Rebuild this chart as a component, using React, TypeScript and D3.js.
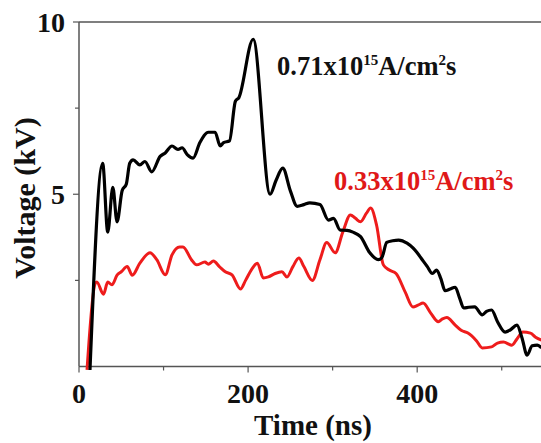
import React from 'react';
import * as d3 from 'd3';

// time (ns) / voltage (kV)
const blackTime = [13, 28, 34, 40, 45, 51, 56, 60, 64, 72, 78, 86, 96, 102, 110, 117, 122, 128, 135, 143, 153, 161, 167, 171, 178, 185, 189, 206, 226, 233, 241, 250, 258, 266, 273, 285, 295, 301, 309, 317, 324, 333, 344, 354, 358, 364, 371, 378, 388, 395, 400, 406, 412, 418, 423, 428, 433, 439, 445, 450, 455, 461, 468, 477, 482, 488, 495, 504, 510, 518, 524, 530, 536, 542, 547];
const blackVolt = [-0.1, 5.9, 3.9, 5.2, 4.2, 5.1, 5.3, 5.9, 6.0, 5.85, 5.95, 5.65, 6.1, 6.2, 6.4, 6.3, 6.35, 6.15, 6.05, 6.5, 6.8, 6.8, 6.4, 6.5, 6.55, 7.7, 7.8, 9.5, 5.0, 5.4, 5.76, 5.1, 4.65, 4.7, 4.75, 4.7, 4.25, 4.3, 3.96, 3.95, 3.9, 3.77, 3.3, 3.1, 3.15, 3.6, 3.65, 3.67, 3.58, 3.44, 3.3, 3.1, 2.9, 2.7, 2.8, 2.55, 2.2, 2.25, 2.3, 2.0, 1.7, 1.72, 1.73, 1.5, 1.6, 1.64, 1.3, 1.0, 1.06, 1.2, 0.83, 0.33, 0.6, 0.62, 0.54];

const redTime = [9.5, 19, 21, 29, 34, 39, 45, 50, 57, 63, 72, 84, 92, 102, 110, 119, 123, 133, 139, 149, 153, 159, 166, 173, 181, 191, 197, 205, 211, 218, 224, 232, 240, 246, 253, 260, 266, 276, 285, 293, 303, 312, 321, 327, 333, 340, 345, 352, 360, 367, 375, 386, 395, 401, 407, 416, 425, 430, 435, 445, 452, 460, 470, 477, 488, 495, 502, 512, 518, 525, 534, 540, 547];
const redVolt = [-0.1, 2.4, 2.45, 2.1, 2.45, 2.37, 2.65, 2.75, 2.9, 2.65, 3.0, 3.3, 3.1, 2.66, 3.24, 3.47, 3.47, 3.1, 2.95, 3.03, 2.97, 3.06, 2.9, 2.75, 2.66, 2.25, 2.5, 2.85, 3.0, 2.57, 2.6, 2.7, 2.75, 2.6, 2.9, 3.15, 2.9, 2.5, 3.1, 3.6, 3.3, 3.9, 4.4, 4.3, 4.2, 4.45, 4.6, 4.1, 2.95, 2.8, 2.7, 2.15, 1.73, 1.78, 1.84, 1.55, 1.3, 1.38, 1.42, 1.2, 1.05, 0.97, 0.75, 0.54, 0.57, 0.68, 0.71, 0.62, 0.8, 1.0, 0.97, 0.85, 0.77];

const xTickLabels = [0, 200, 400];
const xMinorTicks = [100, 300, 500];
const yTickLabels = [5, 10];
const yMinorTicks = [2.5, 7.5];

const W = 541;
const H = 443;

const App = () => {
  const x = d3.scaleLinear().domain([0, 550]).range([79, 544]);
  const y = d3.scaleLinear().domain([0, 10]).range([366.5, 22]);

  const line = d3
    .line<[number, number]>()
    .x(d => x(d[0]))
    .y(d => y(d[1]))
    .curve(d3.curveMonotoneX);

  const black = blackTime.map((t, i) => [t, blackVolt[i]] as [number, number]);
  const red = redTime.map((t, i) => [t, redVolt[i]] as [number, number]);

  const axisColor = '#555';
  const font = '"Liberation Serif", "Times New Roman", serif';

  return (
    <svg
      width={W}
      height={H}
      style={{ position: 'fixed', left: 0, top: 0, background: '#fff' }}
      fontFamily={font}
      fontWeight="bold"
    >
      {/* frame: left, bottom, top */}
      <line x1={x(0)} x2={x(0)} y1={y(10)} y2={y(0)} stroke={axisColor} strokeWidth={1.5} />
      <line x1={x(0)} x2={W} y1={y(0)} y2={y(0)} stroke={axisColor} strokeWidth={1.5} />
      <line x1={x(0)} x2={W} y1={y(10)} y2={y(10)} stroke={axisColor} strokeWidth={1.5} />

      {xTickLabels.map(t => (
        <g key={'xt' + t}>
          <line x1={x(t)} x2={x(t)} y1={y(0)} y2={y(0) + 6} stroke={axisColor} strokeWidth={1.2} />
          <text x={x(t)} y={403} fontSize={28} textAnchor="middle" fill="#111">
            {t}
          </text>
        </g>
      ))}
      {xMinorTicks.map(t => (
        <line key={'xm' + t} x1={x(t)} x2={x(t)} y1={y(0)} y2={y(0) + 4} stroke={axisColor} strokeWidth={1.2} />
      ))}
      {yTickLabels.map(t => (
        <g key={'yt' + t}>
          <line x1={x(0) - 6} x2={x(0)} y1={y(t)} y2={y(t)} stroke={axisColor} strokeWidth={1.2} />
          <text x={65} y={y(t)} dy="0.35em" fontSize={28} textAnchor="end" fill="#111">
            {t}
          </text>
        </g>
      ))}
      {yMinorTicks.map(t => (
        <line key={'ym' + t} x1={x(0) - 4} x2={x(0)} y1={y(t)} y2={y(t)} stroke={axisColor} strokeWidth={1.2} />
      ))}

      {/* curves */}
      <path d={line(red) || ''} fill="none" stroke="#ee1c1c" strokeWidth={3} strokeLinejoin="round" />
      <path d={line(black) || ''} fill="none" stroke="#000" strokeWidth={3.2} strokeLinejoin="round" />

      {/* series labels */}
      <text x={277} y={75} fontSize={26.5} fill="#111">
        0.71x10
        <tspan dy={-10} fontSize={15}>15</tspan>
        <tspan dy={10}>A/cm</tspan>
        <tspan dy={-10} fontSize={15}>2</tspan>
        <tspan dy={10}>s</tspan>
      </text>
      <text x={334} y={190} fontSize={26.5} fill="#e01818">
        0.33x10
        <tspan dy={-10} fontSize={15}>15</tspan>
        <tspan dy={10}>A/cm</tspan>
        <tspan dy={-10} fontSize={15}>2</tspan>
        <tspan dy={10}>s</tspan>
      </text>

      {/* axis titles */}
      <text x={313} y={435} fontSize={29} textAnchor="middle" fill="#111">
        Time (ns)
      </text>
      <text transform="translate(35,198) rotate(-90)" fontSize={30} textAnchor="middle" fill="#111">
        Voltage (kV)
      </text>
    </svg>
  );
};

export default App;
